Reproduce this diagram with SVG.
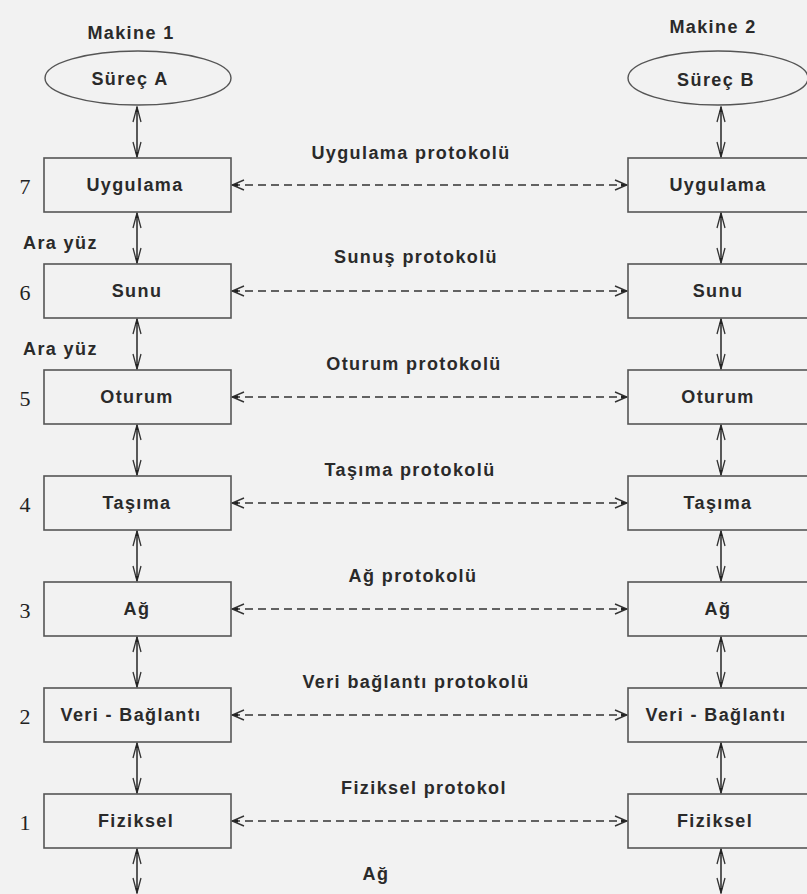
<svg xmlns="http://www.w3.org/2000/svg" width="807" height="894" viewBox="0 0 807 894">
<defs>
<style>
.bg{fill:#f2f2f2}
.box{fill:#f2f2f2;stroke:#555;stroke-width:1.6}
.t{font-family:"Liberation Sans",Arial,sans-serif;font-weight:bold;font-size:18px;fill:#2a2a2a;letter-spacing:1.4px}
.c{text-anchor:middle}
.num{font-family:"Liberation Serif","Times New Roman",serif;font-size:22px;fill:#222;text-anchor:middle}
.dash{stroke:#333;stroke-width:1.5;stroke-dasharray:8 5;fill:none;marker-start:url(#ah);marker-end:url(#ah)}
.v{stroke:#333;stroke-width:1.6;fill:none;marker-start:url(#vh);marker-end:url(#vh)}
.ell{fill:#f2f2f2;stroke:#555;stroke-width:1.4}
</style>
<marker id="ah" viewBox="-15 -6 16 12" refX="0" refY="0" markerWidth="16" markerHeight="12" markerUnits="userSpaceOnUse" orient="auto-start-reverse">
<path d="M-12,-5 L0,0 L-12,5" fill="none" stroke="#333" stroke-width="1.4"/>
<path d="M0,0 L-6,-1.8 L-6,1.8 Z" fill="#222"/>
</marker>
<marker id="vh" viewBox="-17 -6 18 12" refX="0" refY="0" markerWidth="18" markerHeight="12" markerUnits="userSpaceOnUse" orient="auto-start-reverse">
<path d="M-15,-4 L0,0 L-15,4" fill="none" stroke="#333" stroke-width="1.3"/>
<path d="M0,0 L-5,-1.6 L-5,1.6 Z" fill="#222"/>
</marker>
</defs>
<rect class="bg" x="0" y="0" width="807" height="894"/>

<g id="labels">
<text class="t c" x="131" y="39">Makine 1</text>
<text class="t c" x="713" y="33">Makine 2</text>
<text class="t" x="23" y="249">Ara yüz</text>
<text class="t" x="23" y="355">Ara yüz</text>
<text class="t c" x="411" y="159">Uygulama protokolü</text>
<text class="t c" x="416" y="263">Sunuş protokolü</text>
<text class="t c" x="414" y="370">Oturum protokolü</text>
<text class="t c" x="410" y="476">Taşıma protokolü</text>
<text class="t c" x="413" y="582">Ağ protokolü</text>
<text class="t c" x="416" y="688">Veri bağlantı protokolü</text>
<text class="t c" x="424" y="794">Fiziksel protokol</text>
<text class="t c" x="376" y="880">Ağ</text>
</g>

<g id="numbers">
<text class="num" x="25" y="194">7</text>
<text class="num" x="25" y="300">6</text>
<text class="num" x="25" y="406">5</text>
<text class="num" x="25" y="512">4</text>
<text class="num" x="25" y="618">3</text>
<text class="num" x="25" y="724">2</text>
<text class="num" x="25" y="830">1</text>
</g>

<g id="connectors">
<line class="v" x1="137" y1="107" x2="137" y2="157"/>
<line class="v" x1="137" y1="213" x2="137" y2="263"/>
<line class="v" x1="137" y1="319" x2="137" y2="369"/>
<line class="v" x1="137" y1="425" x2="137" y2="475"/>
<line class="v" x1="137" y1="531" x2="137" y2="581"/>
<line class="v" x1="137" y1="637" x2="137" y2="687"/>
<line class="v" x1="137" y1="743" x2="137" y2="793"/>
<line class="v" x1="137" y1="849" x2="137" y2="893"/>
<line class="v" x1="721" y1="107" x2="721" y2="157"/>
<line class="v" x1="721" y1="213" x2="721" y2="263"/>
<line class="v" x1="721" y1="319" x2="721" y2="369"/>
<line class="v" x1="721" y1="425" x2="721" y2="475"/>
<line class="v" x1="721" y1="531" x2="721" y2="581"/>
<line class="v" x1="721" y1="637" x2="721" y2="687"/>
<line class="v" x1="721" y1="743" x2="721" y2="793"/>
<line class="v" x1="721" y1="849" x2="721" y2="893"/>
<line class="dash" x1="232" y1="185" x2="627" y2="185"/>
<line class="dash" x1="232" y1="291" x2="627" y2="291"/>
<line class="dash" x1="232" y1="397" x2="627" y2="397"/>
<line class="dash" x1="232" y1="503" x2="627" y2="503"/>
<line class="dash" x1="232" y1="609" x2="627" y2="609"/>
<line class="dash" x1="232" y1="715" x2="627" y2="715"/>
<line class="dash" x1="232" y1="821" x2="627" y2="821"/>
</g>

<g id="proc-a"><ellipse class="ell" cx="138" cy="78" rx="93" ry="27"/><text class="t c" x="130" y="85">Süreç A</text></g>
<g id="proc-b"><ellipse class="ell" cx="718" cy="78" rx="90" ry="27"/><text class="t c" x="716" y="86">Süreç B</text></g>

<g id="a7"><rect class="box" x="44" y="158" width="187" height="54"/><text class="t c" x="135" y="191">Uygulama</text></g>
<g id="a6"><rect class="box" x="44" y="264" width="187" height="54"/><text class="t c" x="137" y="297">Sunu</text></g>
<g id="a5"><rect class="box" x="44" y="370" width="187" height="54"/><text class="t c" x="137" y="403">Oturum</text></g>
<g id="a4"><rect class="box" x="44" y="476" width="187" height="54"/><text class="t c" x="137" y="509">Taşıma</text></g>
<g id="a3"><rect class="box" x="44" y="582" width="187" height="54"/><text class="t c" x="137" y="615">Ağ</text></g>
<g id="a2"><rect class="box" x="44" y="688" width="187" height="54"/><text class="t c" x="131" y="721">Veri - Bağlantı</text></g>
<g id="a1"><rect class="box" x="44" y="794" width="187" height="54"/><text class="t c" x="136" y="827">Fiziksel</text></g>

<g id="b7"><rect class="box" x="628" y="158" width="187" height="54"/><text class="t c" x="718" y="191">Uygulama</text></g>
<g id="b6"><rect class="box" x="628" y="264" width="187" height="54"/><text class="t c" x="718" y="297">Sunu</text></g>
<g id="b5"><rect class="box" x="628" y="370" width="187" height="54"/><text class="t c" x="718" y="403">Oturum</text></g>
<g id="b4"><rect class="box" x="628" y="476" width="187" height="54"/><text class="t c" x="718" y="509">Taşıma</text></g>
<g id="b3"><rect class="box" x="628" y="582" width="187" height="54"/><text class="t c" x="718" y="615">Ağ</text></g>
<g id="b2"><rect class="box" x="628" y="688" width="187" height="54"/><text class="t c" x="716" y="721">Veri - Bağlantı</text></g>
<g id="b1"><rect class="box" x="628" y="794" width="187" height="54"/><text class="t c" x="715" y="827">Fiziksel</text></g>
</svg>
